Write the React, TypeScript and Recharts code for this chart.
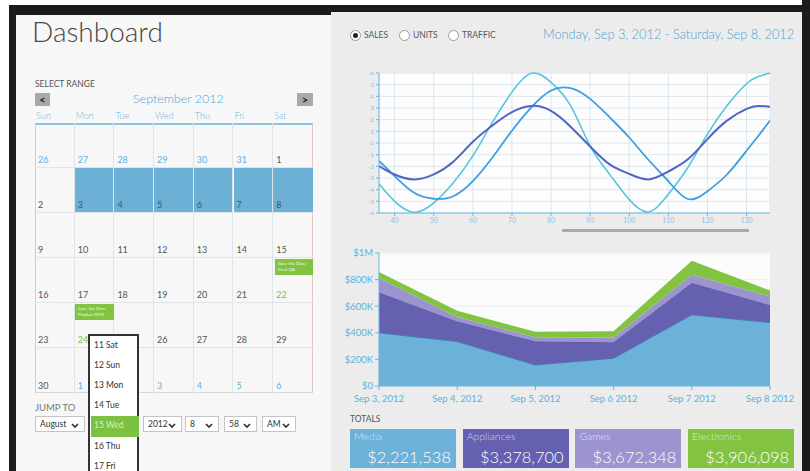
import React from 'react';
import {
  Area,
  AreaChart,
  CartesianGrid,
  Line,
  LineChart,
  XAxis,
  YAxis,
} from 'recharts';

const FONT = "Lato, 'Open Sans', sans-serif";

// wave chart
const waveX = [36, 40, 45, 50, 55, 60, 65, 70, 75, 80, 85, 90, 95, 100, 105, 110, 115, 120, 125, 130, 133, 136];
const waveDark = [-1.97, -2.7, -3.12, -2.69, -1.6, 0.1, 1.5, 2.65, 3.18, 2.75, 1.4, -0.3, -1.83, -2.65, -3.12, -2.45, -1.4, 0.33, 1.92, 2.92, 3.18, 3.1];
const waveCyan = [-3.5, -5.0, -5.94, -5.14, -3.4, -1.1, 1.77, 4.36, 5.98, 5.2, 3.2, -0.24, -2.69, -4.85, -5.9, -4.4, -2.1, 0.76, 3.2, 5.08, 5.7, 6.0];
const waveMid = [-1.54, -2.83, -4.27, -4.78, -4.56, -3.27, -1.25, 1.05, 3.07, 4.5, 4.7, 3.78, 2.2, 0.47, -1.48, -3.27, -4.8, -4.13, -2.7, -0.67, 0.6, 1.92];
const waveXTicks = [40, 50, 60, 70, 80, 90, 100, 110, 120, 130];
const waveYTicks = [-6, -5, -4, -3, -2, -1, 0, 1, 2, 3, 4, 5, 6];

// sales by day, in $K
const days = ['Sep 3, 2012', 'Sep 4, 2012', 'Sep 5, 2012', 'Sep 6 2012', 'Sep 7 2012', 'Sep 8 2012'];
const media = [400, 334, 158, 209, 535, 477];
const appliances = [303, 151, 176, 120, 239, 131];
const games = [109, 33, 33, 35, 63, 65];
const electronics = [45, 47, 40, 48, 105, 45];
const salesTicks = [0, 200, 400, 600, 800, 1000];

const totalNames = ['Media', 'Appliances', 'Games', 'Electronics'];
const totalValues = ['$2,221,538', '$3,378,700', '$3,672,348', '$3,906,098'];
const totalColors = ['#6cb1d7', '#6560b0', '#9c94cf', '#82c341'];

const weekDays = ['Sun', 'Mon', 'Tue', 'Wed', 'Thu', 'Fri', 'Sat'];
const weeks = [
  [26, 27, 28, 29, 30, 31, 1],
  [2, 3, 4, 5, 6, 7, 8],
  [9, 10, 11, 12, 13, 14, 15],
  [16, 17, 18, 19, 20, 21, 22],
  [23, 24, 25, 26, 27, 28, 29],
  [30, 1, 2, 3, 4, 5, 6],
];
const dayItems = ['11 Sat', '12 Sun', '13 Mon', '14 Tue', '15 Wed', '16 Thu', '17 Fri'];

const waveData = waveX.map((x, i) => ({ x, a: waveDark[i], b: waveCyan[i], c: waveMid[i] }));
const salesData = days.map((d, i) => ({
  day: d,
  media: media[i],
  appliances: appliances[i],
  games: games[i],
  electronics: electronics[i],
}));

const fmtSales = (v: number) => (v === 0 ? '$0' : v >= 1000 ? '$1M' : `$${v}K`);

function Chevron() {
  return (
    <svg width={8} height={6} style={{ position: 'absolute', right: 5, top: 6 }}>
      <polyline points="1,1 4,4 7,1" fill="none" stroke="#333" strokeWidth={1.7} />
    </svg>
  );
}

function Select({ x, w, label }: { x: number; w: number; label: string }) {
  return (
    <div
      style={{
        position: 'absolute', left: x, top: 416, width: w, height: 16, boxSizing: 'border-box',
        border: '1px solid #c4c4c4', background: '#fff', fontSize: 8.5, color: '#333',
        lineHeight: '14px', paddingLeft: 4,
      }}
    >
      {label}
      <Chevron />
    </div>
  );
}

function Radio({ x, label, on }: { x: number; label: string; on?: boolean }) {
  return (
    <div style={{ position: 'absolute', left: x, top: 30 }}>
      <div
        style={{
          position: 'absolute', left: 0, top: 0, width: 9, height: 9, borderRadius: 6,
          border: '1px solid #999', background: '#fff',
        }}
      >
        {on && <div style={{ position: 'absolute', left: 2, top: 2, width: 5, height: 5, borderRadius: 3, background: '#222' }} />}
      </div>
      <div style={{ position: 'absolute', left: 14, top: 0, fontSize: 8.5, color: '#555', whiteSpace: 'nowrap', lineHeight: '11px' }}>
        {label}
      </div>
    </div>
  );
}

function Calendar() {
  const left = 35;
  const top = 123;
  const cw = 39.7;
  const rh = 45;
  const numColor = (r: number, c: number, d: number) => {
    if (r === 0 && c < 6) return '#5cb2df';
    if (r === 5 && c > 0) return '#5cb2df';
    if (d === 22 && r === 3) return '#7dc142';
    if (d === 24 && r === 4) return '#7dc142';
    if (r === 1 && c > 0) return '#3b5a70';
    return '#555';
  };
  // the day dropdown covers these two numbers
  const hidden = (r: number, c: number) => c === 2 && (r === 4 || r === 5);
  return (
    <>
      {weekDays.map((w, i) => (
        <div key={w} style={{ position: 'absolute', left: left + 1 + i * cw, top: 110, fontSize: 9, color: '#6ab3dc', fontWeight: 300 }}>{w}</div>
      ))}
      <div
        style={{
          position: 'absolute', left, top, width: cw * 7, height: rh * 6, boxSizing: 'border-box',
          borderTop: '2px solid #8cc3e3', borderLeft: '1px solid #e4c4c4', borderRight: '1px solid #e4c4c4',
          borderBottom: '1px solid #d8d8d8', background: '#f7f7f7',
        }}
      />
      {weeks.map((wk, r) =>
        wk.map((d, c) => (
          <div
            key={`${r}-${c}`}
            style={{
              position: 'absolute', left: left + c * cw, top: top + r * rh, width: cw, height: rh,
              boxSizing: 'border-box', borderRight: c < 6 ? '1px solid #dfe4e8' : 'none',
              borderBottom: r < 5 ? '1px solid #dfe4e8' : 'none',
              background: r === 1 && c > 0 ? '#6cb0d6' : 'transparent',
            }}
          >
            {!hidden(r, c) && (
              <div style={{ position: 'absolute', left: 3, bottom: 2, fontSize: 9, color: numColor(r, c, d) }}>{d}</div>
            )}
          </div>
        )),
      )}
      <div
        style={{
          position: 'absolute', left: 275, top: 259, width: 38, height: 16, background: '#82c341',
          color: '#eef8e4', fontSize: 4.5, lineHeight: '6px', padding: '2px 3px', boxSizing: 'border-box',
        }}
      >
        Save the Date<br />Final QA
      </div>
      <div
        style={{
          position: 'absolute', left: 75, top: 304, width: 39, height: 16, background: '#82c341',
          color: '#eef8e4', fontSize: 4.5, lineHeight: '6px', padding: '2px 3px', boxSizing: 'border-box',
        }}
      >
        Save the Date<br />Product RTM
      </div>
    </>
  );
}

export default function App() {
  return (
    <div
      style={{
        position: 'absolute', left: 0, top: 0, width: 810, height: 471, overflow: 'hidden',
        background: '#fff', fontFamily: FONT,
      }}
    >
      {/* frame */}
      <div style={{ position: 'absolute', left: 9, top: 5, width: 801, height: 10, background: '#1b1b1b' }} />
      <div style={{ position: 'absolute', left: 9, top: 5, width: 7, height: 466, background: '#1b1b1b' }} />
      <div style={{ position: 'absolute', left: 802, top: 0, width: 8, height: 471, background: '#1b1b1b' }} />
      <div style={{ position: 'absolute', left: 16, top: 15, width: 315, height: 456, background: '#f7f7f7' }} />
      <div style={{ position: 'absolute', left: 331, top: 12, width: 471, height: 459, background: '#ececec' }} />

      {/* left side */}
      <div style={{ position: 'absolute', left: 32, top: 14, fontSize: 28, fontWeight: 300, color: '#474747' }}>Dashboard</div>
      <div style={{ position: 'absolute', left: 35, top: 79, fontSize: 8.5, color: '#555' }}>SELECT RANGE</div>
      <div
        style={{
          position: 'absolute', left: 35, top: 93, width: 15, height: 13, background: '#a9a9a9',
          fontSize: 11, fontWeight: 700, color: '#222', textAlign: 'center', lineHeight: '13px',
        }}
      >
        {'<'}
      </div>
      <div
        style={{
          position: 'absolute', left: 297, top: 93, width: 16, height: 13, background: '#a9a9a9',
          fontSize: 11, fontWeight: 700, color: '#222', textAlign: 'center', lineHeight: '13px',
        }}
      >
        {'>'}
      </div>
      <div style={{ position: 'absolute', left: 133, top: 91, fontSize: 12.5, color: '#4ba6d6', fontWeight: 300 }}>September 2012</div>
      <Calendar />

      <div style={{ position: 'absolute', left: 35, top: 402, fontSize: 9.5, color: '#777' }}>JUMP TO</div>
      <Select x={35} w={50} label="August" />
      <Select x={143} w={39} label="2012" />
      <Select x={185} w={34} label="8" />
      <Select x={224} w={33} label="58" />
      <Select x={262} w={34} label="AM" />

      {/* day dropdown */}
      <div
        style={{
          position: 'absolute', left: 88, top: 334, width: 51, height: 150, boxSizing: 'border-box',
          border: '2px solid #333', background: '#fff',
        }}
      >
        {dayItems.map((d, i) => (
          <div
            key={d}
            style={{
              position: 'absolute', left: 1, top: i * 20.1, width: 45, height: 21,
              background: i === 4 ? '#7dc142' : 'transparent', color: i === 4 ? '#d9f0c6' : '#333',
              fontSize: 8.5, lineHeight: '19px', paddingLeft: 3,
            }}
          >
            {d}
          </div>
        ))}
      </div>

      {/* right side header */}
      <Radio x={350} label="SALES" on />
      <Radio x={399} label="UNITS" />
      <Radio x={448} label="TRAFFIC" />
      <div style={{ position: 'absolute', left: 543, top: 26, fontSize: 12.8, color: '#4ba6d6', whiteSpace: 'nowrap', fontWeight: 300 }}>
        Monday, Sep 3, 2012 - Saturday, Sep 8, 2012
      </div>

      {/* wave chart */}
      <div style={{ position: 'absolute', left: 340, top: 60 }}>
        <LineChart width={440} height={180} data={waveData} margin={{ top: 13, right: 10, bottom: 13, left: 9 }}>
          <CartesianGrid stroke="#dbe6ef" fill="#fdfdfd" />
          <XAxis
            type="number"
            dataKey="x"
            domain={[36, 136]}
            ticks={waveXTicks}
            allowDataOverflow
            height={14}
            stroke="#6ab4e0"
            tickSize={3}
            tick={{ fontSize: 7, fill: '#8dc3e2' }}
          />
          <YAxis
            type="number"
            domain={[-6, 6]}
            ticks={waveYTicks}
            width={30}
            stroke="#6ab4e0"
            tickSize={3}
            interval={0}
            tick={{ fontSize: 6.5, fill: '#8dc3e2' }}
          />
          <Line type="natural" dataKey="b" stroke="#55c5dc" strokeWidth={1.6} dot={false} isAnimationActive={false} />
          <Line type="natural" dataKey="c" stroke="#3b9fe0" strokeWidth={1.8} dot={false} isAnimationActive={false} />
          <Line type="natural" dataKey="a" stroke="#4f66c4" strokeWidth={2} dot={false} isAnimationActive={false} />
        </LineChart>
      </div>
      <div style={{ position: 'absolute', left: 562, top: 229, width: 187, height: 3, background: '#a9a9a9', borderRadius: 1 }} />

      {/* sales area chart */}
      <div style={{ position: 'absolute', left: 340, top: 245 }}>
        <AreaChart width={460} height={165} data={salesData} margin={{ top: 8, right: 30, bottom: 0, left: 0 }}>
          <CartesianGrid stroke="#edf1f4" vertical={false} fill="#fbfbfb" />
          <XAxis
            dataKey="day"
            interval={0}
            height={24}
            stroke="#6ab4e0"
            tickSize={4}
            tickMargin={5}
            tick={{ fontSize: 9.5, fill: '#5ab2e0' }}
          />
          <YAxis
            domain={[0, 1000]}
            ticks={salesTicks}
            width={39}
            stroke="#6ab4e0"
            tickSize={4}
            tickFormatter={fmtSales}
            tick={{ fontSize: 9.5, fill: '#5ab2e0' }}
          />
          <Area type="linear" dataKey="media" stackId="1" stroke="#2c84bd" strokeWidth={1} fill="#6cb1d7" fillOpacity={1} isAnimationActive={false} />
          <Area type="linear" dataKey="appliances" stackId="1" stroke="#5a52a6" strokeWidth={1} fill="#6560b0" fillOpacity={1} isAnimationActive={false} />
          <Area type="linear" dataKey="games" stackId="1" stroke="none" fill="#9c94cf" fillOpacity={1} isAnimationActive={false} />
          <Area type="linear" dataKey="electronics" stackId="1" stroke="none" fill="#82c341" fillOpacity={1} isAnimationActive={false} />
        </AreaChart>
      </div>

      {/* totals */}
      <div style={{ position: 'absolute', left: 350, top: 414, fontSize: 8.5, color: '#555' }}>TOTALS</div>
      {totalNames.map((n, i) => (
        <div
          key={n}
          style={{
            position: 'absolute', left: 350 + i * 112.7, top: 429, width: 106, height: 39,
            background: totalColors[i],
          }}
        >
          <div style={{ position: 'absolute', left: 4, top: 1, fontSize: 10.5, color: 'rgba(255,255,255,0.72)', fontWeight: 300 }}>{n}</div>
          <div style={{ position: 'absolute', right: 5, bottom: 1, fontSize: 16.5, color: '#fff', fontWeight: 300 }}>{totalValues[i]}</div>
        </div>
      ))}
    </div>
  );
}
